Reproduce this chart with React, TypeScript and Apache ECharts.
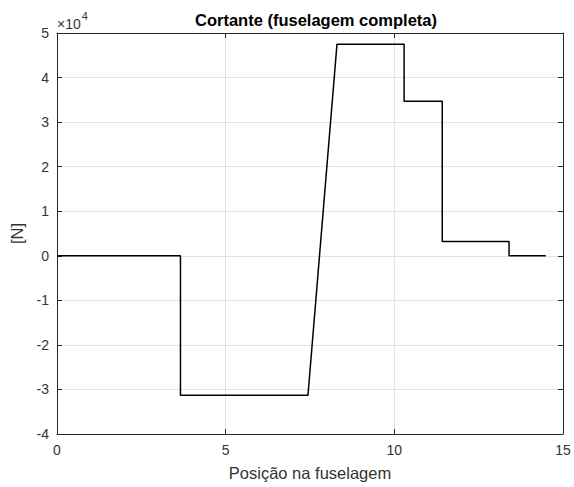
import React, { useEffect, useRef } from "react";
import * as echarts from "echarts";

const positions = [0, 3.66, 3.66, 7.44, 8.3, 10.29, 10.29, 11.42, 11.42, 13.4, 13.4, 14.49];
const shear = [0, 0, -31300, -31300, 47500, 47500, 34700, 34700, 3200, 3200, 0, 0];
const xTicks = [0, 5, 10, 15];
const yTicks = [-4, -3, -2, -1, 0, 1, 2, 3, 4, 5];
const SCALE = 10000;

const FONT = "Liberation Sans, Arial, Helvetica, sans-serif";
const AX = "#262626";
const LBL = "#333333";

export default function App() {
  const ref = useRef<HTMLDivElement>(null);
  useEffect(() => {
    if (!ref.current) return;
    const chart = echarts.init(ref.current, undefined, { renderer: "svg" });
    const axisCommon = {
      axisLine: { show: true, onZero: false, lineStyle: { color: AX, width: 1 } },
      axisTick: { show: true, inside: true, length: 5, lineStyle: { color: AX } },
    };
    chart.setOption({
      animation: false,
      backgroundColor: "#fff",
      title: {
        text: "Cortante (fuselagem completa)",
        left: 311,
        top: 6,
        textAlign: "center",
        textStyle: { fontFamily: FONT, fontSize: 16.5, fontWeight: "bold", color: "#000" },
      },
      grid: { left: 57, right: 11, top: 33, bottom: 53, containLabel: false },
      xAxis: [
        {
          type: "value",
          min: xTicks[0],
          max: xTicks[xTicks.length - 1],
          interval: 5,
          position: "bottom",
          name: "Posição na fuselagem",
          nameLocation: "middle",
          nameGap: 30,
          nameTextStyle: { fontFamily: FONT, fontSize: 16.5, color: LBL },
          ...axisCommon,
          axisLabel: { fontFamily: FONT, fontSize: 14, color: LBL, margin: 9 },
          splitLine: { show: true, lineStyle: { color: "#e3e3e3", width: 1 } },
        },
        {
          type: "value",
          min: xTicks[0],
          max: xTicks[xTicks.length - 1],
          interval: 5,
          position: "top",
          ...axisCommon,
          axisLabel: { show: false },
          splitLine: { show: false },
        },
      ],
      yAxis: [
        {
          type: "value",
          min: yTicks[0] * SCALE,
          max: yTicks[yTicks.length - 1] * SCALE,
          interval: SCALE,
          position: "left",
          name: "[N]",
          nameLocation: "middle",
          nameGap: 23,
          nameRotate: 90,
          nameTextStyle: { fontFamily: FONT, fontSize: 16.5, color: LBL },
          ...axisCommon,
          axisLabel: {
            fontFamily: FONT,
            fontSize: 14,
            color: LBL,
            margin: 8,
            formatter: (v: number) => String(Math.round(v / SCALE)),
          },
          splitLine: { show: true, lineStyle: { color: "#e3e3e3", width: 1 } },
        },
        {
          type: "value",
          min: yTicks[0] * SCALE,
          max: yTicks[yTicks.length - 1] * SCALE,
          interval: SCALE,
          position: "right",
          ...axisCommon,
          axisLabel: { show: false },
          splitLine: { show: false },
        },
      ],
      graphic: [
        {
          type: "text",
          left: 57,
          top: 10,
          style: {
            text: "{a|×10}{b|4}",
            rich: {
              a: { fontFamily: FONT, fontSize: 14, fill: LBL, verticalAlign: "bottom", padding: [7, 0, 0, 0] },
              b: { fontFamily: FONT, fontSize: 11, fill: LBL, verticalAlign: "top", padding: [0, 0, 7, 1] },
            },
          },
        },
      ],
      series: [
        {
          type: "line",
          data: positions.map((p, i) => [p, shear[i]]),
          showSymbol: false,
          symbol: "none",
          lineStyle: { color: "#000", width: 1.5 },
          z: 5,
        },
      ],
    });
    return () => chart.dispose();
  }, []);
  return (
    <div
      ref={ref}
      style={{ position: "absolute", left: 0, top: 0, width: 574, height: 487 }}
    />
  );
}
